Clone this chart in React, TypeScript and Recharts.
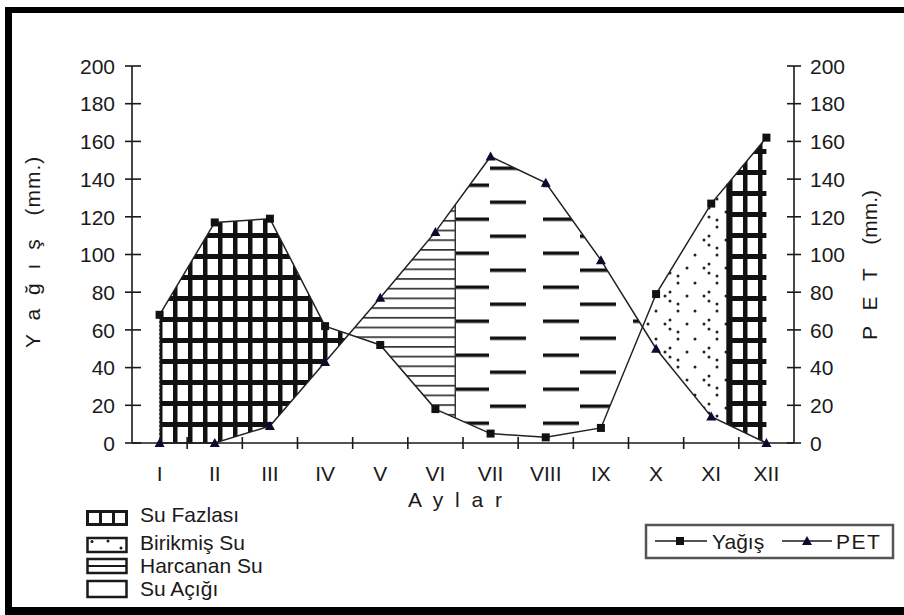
import React from 'react';
import { ComposedChart, Line, Area, XAxis, YAxis, ReferenceLine } from 'recharts';

// ---- data ----
const months = ['I', 'II', 'III', 'IV', 'V', 'VI', 'VII', 'VIII', 'IX', 'X', 'XI', 'XII'];
const yagis = [68, 117, 119, 62, 52, 18, 5, 3, 8, 79, 127, 162];
const pet = [0, 0, 9, 43, 77, 112, 152, 138, 97, 50, 14, 0];
const yTicks = [0, 20, 40, 60, 80, 100, 120, 140, 160, 180, 200];
// month positions where soil storage regime changes
const harcananEnd = 6.36;
const fazlasiStart = 11.3;

const FONT = '"Liberation Sans", Arial, Helvetica, sans-serif';
const INK = '#1a1a1a';

const lineData = months.map((name, i) => ({ m: i + 1, name, yagis: yagis[i], pet: pet[i] }));

const at = (arr: number[], m: number) => {
  const i = Math.floor(m);
  const f = m - i;
  if (f === 0 || i >= arr.length) return arr[i - 1];
  return arr[i - 1] + (arr[i] - arr[i - 1]) * f;
};

const crossings: number[] = [];
for (let i = 0; i < months.length - 1; i++) {
  const d0 = yagis[i] - pet[i];
  const d1 = yagis[i + 1] - pet[i + 1];
  if (d0 * d1 < 0) crossings.push(i + 1 + d0 / (d0 - d1));
}
const c1 = crossings[0];
const c2 = crossings[1];

const segment = (from: number, to: number) => {
  const ms: number[] = [from];
  for (let k = Math.floor(from) + 1; k < to; k++) if (k > from) ms.push(k);
  ms.push(to);
  return ms.map((m) => ({ m, range: [at(pet, m), at(yagis, m)] }));
};

const fazlasi1 = segment(1, c1);
const harcanan = segment(c1, harcananEnd);
const acigi = segment(harcananEnd, c2);
const birikmis = segment(c2, fazlasiStart);
const fazlasi2 = segment(fazlasiStart, 12);

const xTickValues: number[] = [];
for (let k = 1; k <= 12; k++) {
  xTickValues.push(k);
  if (k < 12) xTickValues.push(k + 0.5);
}

const monthLabel = (v: number) => months[Math.round(v) - 1];

const LeftTick = (props: any) => {
  const { x, y, payload } = props;
  return (
    <g>
      <line x1={x - 7} x2={x + 9} y1={y} y2={y} stroke={INK} strokeWidth={1.6} />
      <text x={x - 17} y={y} dy="0.37em" textAnchor="end" fontSize={21} fontFamily={FONT} fill={INK}>
        {payload.value}
      </text>
    </g>
  );
};

const RightTick = (props: any) => {
  const { x, y, payload } = props;
  return (
    <g>
      <line x1={x - 7} x2={x + 7} y1={y} y2={y} stroke={INK} strokeWidth={1.6} />
      <text x={x + 16} y={y} dy="0.37em" textAnchor="start" fontSize={21} fontFamily={FONT} fill={INK}>
        {payload.value}
      </text>
    </g>
  );
};

const BottomTick = (props: any) => {
  const { x, y, payload } = props;
  const v = payload.value as number;
  if (Number.isInteger(v)) {
    return (
      <text x={x} y={y + 38} textAnchor="middle" fontSize={21} fontFamily={FONT} fill={INK}>
        {monthLabel(v)}
      </text>
    );
  }
  return <line x1={x} x2={x} y1={y - 6} y2={y + 6} stroke={INK} strokeWidth={1.6} />;
};

const SquareDot = (props: any) => {
  const { cx, cy } = props;
  if (cx == null || cy == null) return null;
  return <rect x={cx - 4} y={cy - 4} width={8} height={8} fill="#111" />;
};

const TriDot = (props: any) => {
  const { cx, cy } = props;
  if (cx == null || cy == null) return null;
  return <polygon points={`${cx},${cy - 5} ${cx - 5},${cy + 4} ${cx + 5},${cy + 4}`} fill="#0b0b30" />;
};

const Overlay = () => (
  <svg width={904} height={615} style={{ position: 'absolute', left: 0, top: 0, pointerEvents: 'none' }}>
    {/* frame */}
    <rect x={5} y={7} width={904} height={6} fill="#000" />
    <rect x={5} y={7} width={7} height={608} fill="#000" />
    <rect x={5} y={607} width={904} height={8} fill="#000" />

    {/* axis titles */}
    <text
      transform="translate(40,348) rotate(-90)"
      fontSize={21}
      fontFamily={FONT}
      fill={INK}
      letterSpacing={4}
      style={{ whiteSpace: 'pre' }}
    >
      {'Y a ğ ı ş '}
      <tspan letterSpacing={1} dx={10}>(mm.)</tspan>
    </text>
    <text
      transform="translate(877,340) rotate(-90)"
      fontSize={21}
      fontFamily={FONT}
      fill={INK}
      letterSpacing={5}
      style={{ whiteSpace: 'pre' }}
    >
      {'P E T '}
      <tspan letterSpacing={0} dx={8}>(mm.)</tspan>
    </text>
    <text x={408} y={507} fontSize={21} fontFamily={FONT} fill={INK} letterSpacing={3} style={{ whiteSpace: 'pre' }}>
      {'A y l a r'}
    </text>

    {/* left legend */}
    <g stroke={INK} fill="none">
      <rect x={87.5} y={511.5} width={39} height={13} strokeWidth={3} />
      <line x1={100.5} x2={100.5} y1={511} y2={525} strokeWidth={3} />
      <line x1={113.5} x2={113.5} y1={511} y2={525} strokeWidth={3} />
      <rect x={87.5} y={538} width={39} height={14} strokeWidth={2.5} />
      <rect x={87.5} y={559} width={39} height={14} strokeWidth={2.5} />
      <line x1={88} x2={126} y1={566} y2={566} strokeWidth={2} />
      <rect x={87.5} y={581} width={39} height={16} strokeWidth={2.5} />
    </g>
    <g fill={INK}>
      <circle cx={92} cy={541.5} r={1.5} />
      <circle cx={108} cy={541} r={1.5} />
      <circle cx={121} cy={548} r={1.5} />
    </g>
    <g fontSize={21} fontFamily={FONT} fill={INK}>
      <text x={140} y={522}>Su Fazlası</text>
      <text x={140} y={550}>Birikmiş Su</text>
      <text x={140} y={573}>Harcanan Su</text>
      <text x={140} y={596}>Su Açığı</text>
    </g>

    {/* right legend */}
    <rect x={646} y={525} width={247} height={33} fill="none" stroke="#555" strokeWidth={2.5} />
    <line x1={655} x2={707} y1={541} y2={541} stroke={INK} strokeWidth={1.6} />
    <rect x={676} y={537} width={8} height={8} fill="#111" />
    <text x={712} y={549} fontSize={21} fontFamily={FONT} fill={INK}>Yağış</text>
    <line x1={782} x2={832} y1={541} y2={541} stroke={INK} strokeWidth={1.6} />
    <polygon points="807,536 802,545 812,545" fill="#0b0b30" />
    <text x={836} y={549} fontSize={21} fontFamily={FONT} fill={INK} letterSpacing={1.5}>PET</text>
  </svg>
);

export default function App() {
  return (
    <div style={{ position: 'absolute', left: 0, top: 0, width: 904, height: 615, background: '#fff' }}>
      <ComposedChart width={904} height={615} data={lineData} margin={{ top: 66, right: 0, bottom: 0, left: 0 }}>
        <defs>
          <pattern id="pGrid" patternUnits="userSpaceOnUse" x={158} y={443} width={15} height={21}>
            <rect width={15} height={21} fill="#fff" />
            <rect x={0} y={0} width={4.5} height={21} fill="#111" />
            <rect x={0} y={0} width={15} height={5} fill="#111" />
          </pattern>
          <pattern id="pLines" patternUnits="userSpaceOnUse" x={0} y={443} width={10} height={9.7}>
            <rect width={10} height={9.7} fill="#fff" />
            <rect x={0} y={0} width={10} height={1.7} fill="#333" />
          </pattern>
          <pattern id="pDash" patternUnits="userSpaceOnUse" x={490} y={166.5} width={90} height={34}>
            <rect width={90} height={34} fill="#fff" />
            <rect x={0} y={0} width={36} height={3.5} fill="#111" />
            <rect x={53} y={17} width={36} height={3.5} fill="#111" />
          </pattern>
          <pattern id="pDots" patternUnits="userSpaceOnUse" x={668} y={281} width={39} height={28}>
            <rect width={39} height={28} fill="#fff" />
            <circle cx={10} cy={2} r={1.5} fill="#222" />
            <circle cx={27} cy={2} r={1.5} fill="#222" />
            <circle cx={2} cy={11} r={1.5} fill="#222" />
            <circle cx={2} cy={20} r={1.5} fill="#222" />
            <circle cx={19} cy={15} r={1.5} fill="#222" />
            <circle cx={36} cy={15} r={1.5} fill="#222" />
            <circle cx={10} cy={23} r={1.5} fill="#222" />
          </pattern>
        </defs>

        <XAxis
          dataKey="m"
          type="number"
          domain={[0.5, 12.5]}
          ticks={xTickValues}
          interval={0}
          height={172}
          tickSize={0}
          tickMargin={0}
          tickLine={false}
          tick={<BottomTick />}
          axisLine={{ stroke: INK, strokeWidth: 1.6 }}
          allowDataOverflow
        />
        <YAxis
          yAxisId="left"
          orientation="left"
          width={132}
          domain={[0, 200]}
          ticks={yTicks}
          interval={0}
          tickSize={0}
          tickMargin={0}
          tickLine={false}
          tick={<LeftTick />}
          axisLine={{ stroke: INK, strokeWidth: 1.6 }}
        />
        <YAxis
          yAxisId="right"
          orientation="right"
          width={110}
          domain={[0, 200]}
          ticks={yTicks}
          interval={0}
          tickSize={0}
          tickMargin={0}
          tickLine={false}
          tick={<RightTick />}
          axisLine={{ stroke: INK, strokeWidth: 1.6 }}
        />

        <Area yAxisId="left" data={fazlasi1} dataKey="range" type="linear" fill="url(#pGrid)" fillOpacity={1} stroke="none" isAnimationActive={false} />
        <Area yAxisId="left" data={harcanan} dataKey="range" type="linear" fill="url(#pLines)" fillOpacity={1} stroke="none" isAnimationActive={false} />
        <Area yAxisId="left" data={acigi} dataKey="range" type="linear" fill="url(#pDash)" fillOpacity={1} stroke="none" isAnimationActive={false} />
        <Area yAxisId="left" data={birikmis} dataKey="range" type="linear" fill="url(#pDots)" fillOpacity={1} stroke="none" isAnimationActive={false} />
        <Area yAxisId="left" data={fazlasi2} dataKey="range" type="linear" fill="url(#pGrid)" fillOpacity={1} stroke="none" isAnimationActive={false} />

        <ReferenceLine
          yAxisId="left"
          segment={[{ x: 1, y: at(pet, 1) }, { x: 1, y: at(yagis, 1) }]}
          stroke="#444"
          strokeWidth={1.2}
          strokeDasharray="2 2"
        />
        <ReferenceLine
          yAxisId="left"
          segment={[{ x: harcananEnd, y: at(yagis, harcananEnd) }, { x: harcananEnd, y: at(pet, harcananEnd) }]}
          stroke="#333"
          strokeWidth={1.5}
        />
        <ReferenceLine
          yAxisId="left"
          segment={[{ x: fazlasiStart, y: at(pet, fazlasiStart) }, { x: fazlasiStart, y: at(yagis, fazlasiStart) }]}
          stroke="#111"
          strokeWidth={3}
        />

        <Line yAxisId="left" dataKey="yagis" type="linear" stroke="#222" strokeWidth={1.5} dot={<SquareDot />} activeDot={false} isAnimationActive={false} />
        <Line yAxisId="left" dataKey="pet" type="linear" stroke="#222" strokeWidth={1.5} dot={<TriDot />} activeDot={false} isAnimationActive={false} />
        {/* PET is read on the right axis too; invisible copy binds that axis */}
        <Line yAxisId="right" dataKey="pet" type="linear" stroke="none" dot={false} activeDot={false} isAnimationActive={false} />
      </ComposedChart>
      <Overlay />
    </div>
  );
}
